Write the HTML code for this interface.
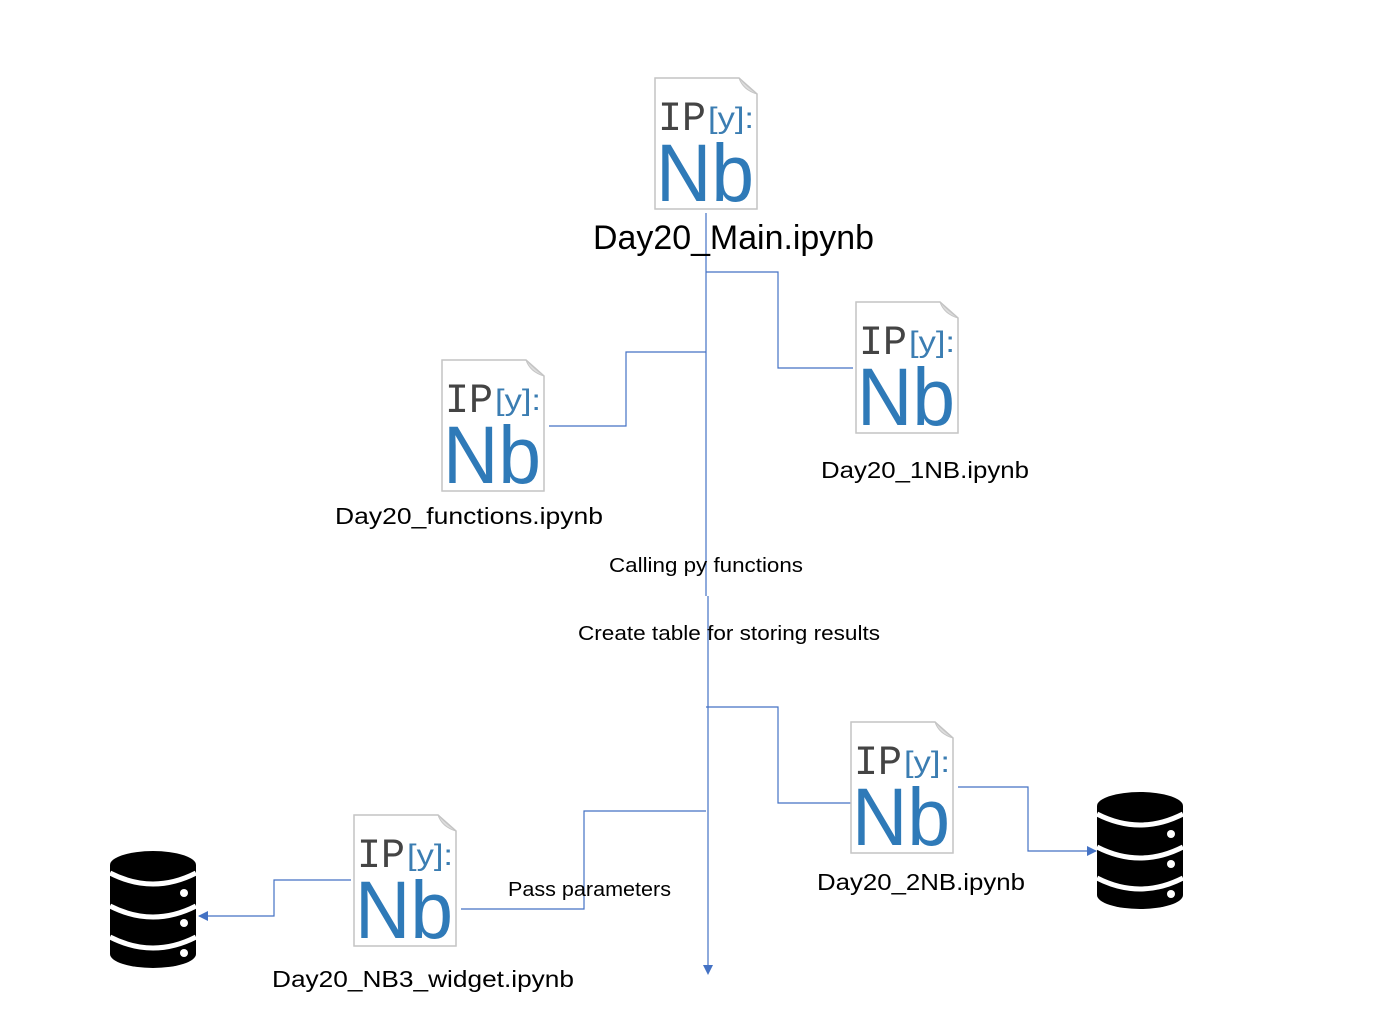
<!DOCTYPE html>
<html><head><meta charset="utf-8"><style>html,body{margin:0;padding:0;background:#fff;}svg{display:block}</style></head>
<body>
<svg width="1388" height="1024" viewBox="0 0 1388 1024" xmlns="http://www.w3.org/2000/svg" font-family="'Liberation Sans', sans-serif">
<defs>
<marker id="ah" markerWidth="10" markerHeight="10" refX="9" refY="5" orient="auto" markerUnits="userSpaceOnUse">
<path d="M0,0 L10,5 L0,10 Z" fill="#4472C4"/></marker>
<g id="db">
<path d="M0,14 A43,14 0 0 1 86,14 V103 A43,14 0 0 1 0,103 Z" fill="#000"/>
<path d="M0,22 Q43,44 86,22" stroke="#fff" stroke-width="5" fill="none"/>
<path d="M0,55 Q43,77 86,55" stroke="#fff" stroke-width="5" fill="none"/>
<path d="M0,86 Q43,108 86,86" stroke="#fff" stroke-width="5" fill="none"/>
<circle cx="74" cy="42" r="4" fill="#fff"/>
<circle cx="74" cy="72" r="4" fill="#fff"/>
<circle cx="74" cy="102" r="4" fill="#fff"/>
</g>
</defs>
<g stroke="#4472C4" stroke-width="1.2" fill="none">
<path d="M706,213 V596"/>
<path d="M706,272 H778 V368 H853"/>
<path d="M706,352 H626 V426 H549"/>
<path d="M706,707 H778 V803 H851"/>
<path d="M958,787 H1028 V851 H1096" marker-end="url(#ah)"/>
<path d="M706,811 H584 V909 H461"/>
<path d="M351,880 H274 V916 H199" marker-end="url(#ah)"/>
</g>
<line x1="708" y1="596" x2="708" y2="966" stroke="#4472C4" stroke-width="1.2"/>
<path d="M703,965 L713,965 L708,975 Z" fill="#4472C4"/>

<g transform="translate(655,78)"><path d="M0,0 H84 L102,16 V131 H0 Z" fill="#fff" stroke="#c4c4c4" stroke-width="1.5"/><path d="M84,0 Q88,12 102,16 Q92,8 84,0Z" fill="#ddd" stroke="#c4c4c4"/><text x="3" y="52" font-size="42" fill="#444" textLength="48" lengthAdjust="spacingAndGlyphs" font-family="'Liberation Mono', monospace">IP</text><text x="53" y="50" font-size="30" fill="#3b7db2" textLength="46" lengthAdjust="spacingAndGlyphs">[y]:</text><text x="1" y="123" font-size="82" fill="#2f7ab8" textLength="98" lengthAdjust="spacingAndGlyphs">Nb</text></g>
<g transform="translate(856,302)"><path d="M0,0 H84 L102,16 V131 H0 Z" fill="#fff" stroke="#c4c4c4" stroke-width="1.5"/><path d="M84,0 Q88,12 102,16 Q92,8 84,0Z" fill="#ddd" stroke="#c4c4c4"/><text x="3" y="52" font-size="42" fill="#444" textLength="48" lengthAdjust="spacingAndGlyphs" font-family="'Liberation Mono', monospace">IP</text><text x="53" y="50" font-size="30" fill="#3b7db2" textLength="46" lengthAdjust="spacingAndGlyphs">[y]:</text><text x="1" y="123" font-size="82" fill="#2f7ab8" textLength="98" lengthAdjust="spacingAndGlyphs">Nb</text></g>
<g transform="translate(442,360)"><path d="M0,0 H84 L102,16 V131 H0 Z" fill="#fff" stroke="#c4c4c4" stroke-width="1.5"/><path d="M84,0 Q88,12 102,16 Q92,8 84,0Z" fill="#ddd" stroke="#c4c4c4"/><text x="3" y="52" font-size="42" fill="#444" textLength="48" lengthAdjust="spacingAndGlyphs" font-family="'Liberation Mono', monospace">IP</text><text x="53" y="50" font-size="30" fill="#3b7db2" textLength="46" lengthAdjust="spacingAndGlyphs">[y]:</text><text x="1" y="123" font-size="82" fill="#2f7ab8" textLength="98" lengthAdjust="spacingAndGlyphs">Nb</text></g>
<g transform="translate(851,722)"><path d="M0,0 H84 L102,16 V131 H0 Z" fill="#fff" stroke="#c4c4c4" stroke-width="1.5"/><path d="M84,0 Q88,12 102,16 Q92,8 84,0Z" fill="#ddd" stroke="#c4c4c4"/><text x="3" y="52" font-size="42" fill="#444" textLength="48" lengthAdjust="spacingAndGlyphs" font-family="'Liberation Mono', monospace">IP</text><text x="53" y="50" font-size="30" fill="#3b7db2" textLength="46" lengthAdjust="spacingAndGlyphs">[y]:</text><text x="1" y="123" font-size="82" fill="#2f7ab8" textLength="98" lengthAdjust="spacingAndGlyphs">Nb</text></g>
<g transform="translate(354,815)"><path d="M0,0 H84 L102,16 V131 H0 Z" fill="#fff" stroke="#c4c4c4" stroke-width="1.5"/><path d="M84,0 Q88,12 102,16 Q92,8 84,0Z" fill="#ddd" stroke="#c4c4c4"/><text x="3" y="52" font-size="42" fill="#444" textLength="48" lengthAdjust="spacingAndGlyphs" font-family="'Liberation Mono', monospace">IP</text><text x="53" y="50" font-size="30" fill="#3b7db2" textLength="46" lengthAdjust="spacingAndGlyphs">[y]:</text><text x="1" y="123" font-size="82" fill="#2f7ab8" textLength="98" lengthAdjust="spacingAndGlyphs">Nb</text></g>

<use href="#db" x="1097" y="792"/>
<use href="#db" x="110" y="851"/>

<g fill="#000">
<text x="593" y="249" font-size="34" textLength="281" lengthAdjust="spacingAndGlyphs">Day20_Main.ipynb</text>
<text x="821" y="478" font-size="23" textLength="208" lengthAdjust="spacingAndGlyphs">Day20_1NB.ipynb</text>
<text x="335" y="524" font-size="23" textLength="268" lengthAdjust="spacingAndGlyphs">Day20_functions.ipynb</text>
<text x="609" y="572" font-size="20" textLength="194" lengthAdjust="spacingAndGlyphs">Calling py functions</text>
<text x="578" y="640" font-size="20" textLength="302" lengthAdjust="spacingAndGlyphs">Create table for storing results</text>
<text x="817" y="890" font-size="23" textLength="208" lengthAdjust="spacingAndGlyphs">Day20_2NB.ipynb</text>
<text x="508" y="896" font-size="20" textLength="163" lengthAdjust="spacingAndGlyphs">Pass parameters</text>
<text x="272" y="987" font-size="23" textLength="302" lengthAdjust="spacingAndGlyphs">Day20_NB3_widget.ipynb</text>
</g>
</svg>
</body></html>
